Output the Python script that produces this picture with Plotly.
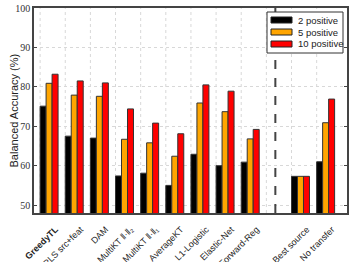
import plotly.graph_objects as go

methods = ["<b>GreedyTL</b>", "RLS src+feat", "DAM", "MultiKT ‖·‖₂", "MultiKT ‖·‖₁",
           "AverageKT", "L1-Logistic", "Elastic-Net", "Forward-Reg", "Best source", "No transfer"]
positions = [1, 2, 3, 4, 5, 6, 7, 8, 9, 11, 12]
separator_pos = 10

pos2 = [75.1, 67.5, 67.0, 57.4, 58.1, 55.0, 62.9, 60.0, 60.9, 57.3, 61.0]
pos5 = [80.9, 77.9, 77.6, 66.7, 65.8, 62.4, 75.9, 73.7, 66.8, 57.3, 70.9]
pos10 = [83.2, 81.5, 81.0, 74.4, 70.8, 68.1, 80.5, 78.9, 69.2, 57.3, 76.9]

series_names = ["2 positive", "5 positive", "10 positive"]
series_values = [pos2, pos5, pos10]
series_colors = ["#000000", "#FFA500", "#FF0000"]

y_title = "Balanced Accuracy (%)"
y_ticks = [50, 60, 70, 80, 90, 100]

grid_offset = 0.357
grid_pos = [p - grid_offset for p in range(1, 13)]
label_offset = 0.25
label_pos = [p + label_offset for p in positions]

W, H = 352, 262
ML, MR, MT, MB = 34, 5, 8, 49
PW, PH = W - ML - MR, H - MT - MB


def px_x(p):
    return (p - ML) / PW


def px_y(p):
    return 1 - (p - MT) / PH


fig = go.Figure()
for name, vals, col in zip(series_names, series_values, series_colors):
    fig.add_trace(go.Bar(x=positions, y=vals, name=name, showlegend=False,
                         marker=dict(color=col, line=dict(color="#333333", width=1))))

shapes = []
# vertical dotted grid lines (ticks sit at the left edge of each group)
for g in grid_pos:
    shapes.append(dict(type="line", xref="x", yref="paper", x0=g, x1=g, y0=0, y1=1,
                       line=dict(color="#d8d8d8", width=1, dash="dot"), layer="below"))
shapes.append(dict(type="line", xref="x", yref="paper", x0=separator_pos, x1=separator_pos,
                   y0=0, y1=1, line=dict(color="#444444", width=2, dash="dash")))
shapes.append(dict(type="rect", xref="paper", yref="paper", x0=px_x(267), x1=px_x(343),
                   y0=px_y(53), y1=px_y(12), fillcolor="white",
                   line=dict(color="#333333", width=1), layer="above"))
annotations = []
for i, (name, col) in enumerate(zip(series_names, series_colors)):
    cy = 20 + 12 * i
    shapes.append(dict(type="rect", xref="paper", yref="paper", x0=px_x(271), x1=px_x(292),
                       y0=px_y(cy + 3), y1=px_y(cy - 3), fillcolor=col,
                       line=dict(color="#222222", width=1), layer="above"))
    annotations.append(dict(xref="paper", yref="paper", x=px_x(296), y=px_y(cy),
                            xanchor="left", yanchor="middle", text=name, showarrow=False,
                            font=dict(family="Liberation Sans, Arial", size=9.5, color="#222222")))
annotations.append(dict(xref="paper", yref="paper", x=px_x(13), y=0.5, textangle=-90,
                        xanchor="center", yanchor="middle", text=y_title, showarrow=False,
                        font=dict(family="Liberation Sans, Arial", size=11, color="#222222")))

fig.update_layout(
    width=W, height=H,
    margin=dict(l=ML, r=MR, t=MT, b=MB),
    paper_bgcolor="white", plot_bgcolor="white",
    barmode="group", bargap=0.285, bargroupgap=0,
    font=dict(family="Liberation Sans, Arial", size=9, color="#222222"),
    showlegend=False,
    xaxis=dict(range=[0.4, 12.85], tickvals=label_pos, ticktext=methods, tickangle=-45,
               showgrid=False, ticks="", showline=True, linecolor="#444444", linewidth=1.5,
               mirror=True, zeroline=False, automargin=False, ticklabelstandoff=6,
               tickfont=dict(family="Liberation Sans, Arial", size=9, color="#222222")),
    yaxis=dict(range=[48, 100], tickvals=y_ticks,
               showgrid=True, gridcolor="#d8d8d8", griddash="dot", gridwidth=1,
               ticks="inside", ticklen=3, tickcolor="#444444",
               showline=True, linecolor="#444444", linewidth=1.5, mirror="ticks",
               zeroline=False, automargin=False,
               tickfont=dict(family="Liberation Serif, Times New Roman", size=10, color="#333333")),
    shapes=shapes,
    annotations=annotations,
)

fig.write_html("out.html", config={"displayModeBar": False},
               post_script="document.body.style.margin='0';document.body.style.padding='0';")
